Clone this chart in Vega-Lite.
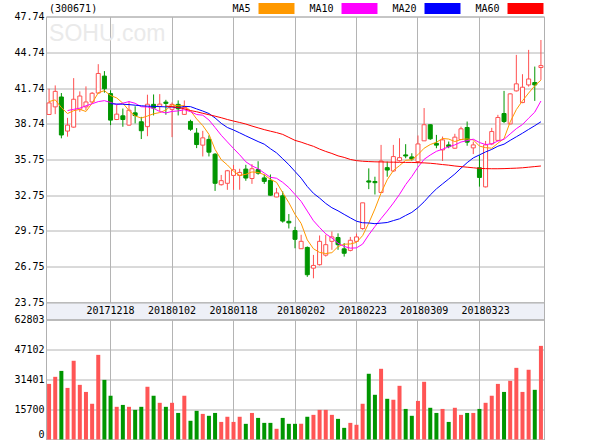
{
  "$schema": "https://vega.github.io/schema/vega-lite/v6.json",
  "padding": {"left": 0, "top": 2.5, "right": 0, "bottom": 0},
  "background": "white",
  "spacing": 0,
  "bounds": "flush",
  "resolve": {"scale": {"x": "shared", "y": "independent", "color": "independent"}},
  "config": {
    "view": {"stroke": "#b0b0b0", "strokeWidth": 1},
    "axis": {"labelFont": "DejaVu Sans Mono", "labelFontSize": 10, "labelColor": "#000000", "gridColor": "#b4b4b4", "gridWidth": 1, "domain": false, "ticks": false, "tickSize": 0, "labelPadding": 2, "labelOverlap": false}
  },
  "data": {"values": [
    {"d":"20171204","o":39.52,"h":41.68,"l":39.5,"c":40.49,"v":29100,"MA5":40.6},
    {"d":"20171205","o":40.16,"h":41.96,"l":39.55,"c":41.46,"v":32800,"MA5":40.75},
    {"d":"20171206","o":40.99,"h":41.32,"l":37.52,"c":37.8,"v":35900,"MA5":40.1},
    {"d":"20171207","o":38.13,"h":39.24,"l":37.66,"c":38.63,"v":27000,"MA5":39.6,"MA10":39.85},
    {"d":"20171208","o":38.46,"h":42.57,"l":38.41,"c":40.8,"v":41200,"MA5":39.84,"MA10":39.95},
    {"d":"20171211","o":39.96,"h":41.46,"l":39.74,"c":41.07,"v":28600,"MA5":39.95,"MA10":40.05},
    {"d":"20171212","o":40.16,"h":41.88,"l":39.88,"c":40.57,"v":24900,"MA5":39.77,"MA10":40.25},
    {"d":"20171213","o":40.57,"h":41.4,"l":40.43,"c":41.3,"v":18700,"MA5":40.47,"MA10":40.42},
    {"d":"20171214","o":41.32,"h":43.74,"l":41.27,"c":42.96,"v":44300,"MA5":41.34,"MA10":40.6},
    {"d":"20171215","o":42.74,"h":43.16,"l":41.35,"c":41.68,"v":31200,"MA5":41.52,"MA10":40.68},
    {"d":"20171218","o":41.27,"h":41.55,"l":38.63,"c":39.05,"v":22900,"MA5":41.11,"MA10":40.53,"MA20":40.42},
    {"d":"20171219","o":39.1,"h":40.35,"l":39.05,"c":39.55,"v":17100,"MA5":40.91,"MA10":40.34,"MA20":40.4},
    {"d":"20171220","o":39.41,"h":40.02,"l":38.49,"c":39.1,"v":18100,"MA5":40.47,"MA10":40.47,"MA20":40.38},
    {"d":"20171221","o":38.63,"h":40.63,"l":38.57,"c":39.88,"v":17100,"MA5":39.85,"MA10":40.6,"MA20":40.35},
    {"d":"20171222","o":39.66,"h":40.21,"l":38.77,"c":39.43,"v":15500,"MA5":39.4,"MA10":40.46,"MA20":40.3},
    {"d":"20171225","o":38.91,"h":39.32,"l":37.46,"c":38.16,"v":17100,"MA5":39.22,"MA10":40.17,"MA20":40.25},
    {"d":"20171226","o":38.5,"h":41.18,"l":37.7,"c":40.38,"v":27600,"MA5":39.39,"MA10":40.15,"MA20":40.22},
    {"d":"20171227","o":40.37,"h":41.2,"l":39.44,"c":40.06,"v":22900,"MA5":39.58,"MA10":40.03,"MA20":40.2},
    {"d":"20171228","o":40.2,"h":41.23,"l":39.78,"c":40.39,"v":19200,"MA5":39.68,"MA10":39.77,"MA20":40.18},
    {"d":"20171229","o":40.56,"h":40.75,"l":39.5,"c":40.45,"v":17100,"MA5":39.89,"MA10":39.65,"MA20":40.16,"MA60":40.22},
    {"d":"20180102","o":39.95,"h":40.53,"l":37.62,"c":40.37,"v":19200,"MA5":40.33,"MA10":39.78,"MA20":40.15,"MA60":40.18},
    {"d":"20180103","o":40.37,"h":40.7,"l":39.44,"c":40.0,"v":13900,"MA5":40.25,"MA10":39.82,"MA20":40.08,"MA60":40.1},
    {"d":"20180104","o":39.53,"h":40.7,"l":39.5,"c":40.1,"v":22900,"MA5":40.26,"MA10":39.92,"MA20":40.2,"MA60":40.0},
    {"d":"20180105","o":38.94,"h":39.08,"l":38.15,"c":38.28,"v":9800,"MA5":39.84,"MA10":39.76,"MA20":40.18,"MA60":39.85},
    {"d":"20180108","o":37.96,"h":38.38,"l":36.7,"c":37.0,"v":15000,"MA5":39.15,"MA10":39.52,"MA20":39.99,"MA60":39.75},
    {"d":"20180109","o":36.95,"h":38.15,"l":36.0,"c":37.56,"v":13400,"MA5":38.59,"MA10":39.46,"MA20":39.81,"MA60":39.62},
    {"d":"20180110","o":37.43,"h":37.76,"l":36.0,"c":36.36,"v":12400,"MA5":37.86,"MA10":39.06,"MA20":39.6,"MA60":39.5},
    {"d":"20180111","o":36.19,"h":36.28,"l":33.11,"c":33.75,"v":13900,"MA5":36.59,"MA10":38.43,"MA20":39.23,"MA60":39.38},
    {"d":"20180112","o":33.63,"h":34.45,"l":33.56,"c":33.97,"v":9200,"MA5":35.73,"MA10":37.78,"MA20":38.78,"MA60":39.25},
    {"d":"20180117","o":33.75,"h":34.87,"l":33.2,"c":34.8,"v":11900,"MA5":35.29,"MA10":37.22,"MA20":38.43,"MA60":39.1},
    {"d":"20180118","o":34.41,"h":35.29,"l":33.2,"c":34.88,"v":9200,"MA5":34.75,"MA10":36.67,"MA20":38.22,"MA60":38.97},
    {"d":"20180119","o":34.41,"h":34.97,"l":33.21,"c":34.66,"v":11900,"MA5":34.41,"MA10":36.14,"MA20":37.98,"MA60":38.85},
    {"d":"20180122","o":34.94,"h":35.3,"l":33.96,"c":34.19,"v":8200,"MA5":34.5,"MA10":35.55,"MA20":37.73,"MA60":38.72},
    {"d":"20180123","o":34.15,"h":35.36,"l":33.7,"c":34.97,"v":13900,"MA5":34.7,"MA10":35.21,"MA20":37.49,"MA60":38.55},
    {"d":"20180124","o":34.9,"h":35.6,"l":34.47,"c":34.6,"v":11300,"MA5":34.66,"MA10":34.97,"MA20":37.25,"MA60":38.4},
    {"d":"20180125","o":34.2,"h":34.49,"l":33.7,"c":33.91,"v":8700,"MA5":34.47,"MA10":34.61,"MA20":37.03,"MA60":38.25},
    {"d":"20180126","o":34.0,"h":34.49,"l":32.7,"c":32.75,"v":8700,"MA5":34.08,"MA10":34.25,"MA20":36.65,"MA60":38.12},
    {"d":"20180129","o":32.6,"h":33.36,"l":32.58,"c":32.94,"v":5600,"MA5":33.83,"MA10":34.17,"MA20":36.3,"MA60":38.0},
    {"d":"20180130","o":32.7,"h":33.08,"l":30.45,"c":30.58,"v":11300,"MA5":32.96,"MA10":33.83,"MA20":35.81,"MA60":37.85},
    {"d":"20180131","o":30.56,"h":31.17,"l":29.96,"c":30.43,"v":8200,"MA5":32.12,"MA10":33.39,"MA20":35.31,"MA60":37.6},
    {"d":"20180201","o":29.78,"h":30.1,"l":28.3,"c":29.05,"v":8200,"MA5":31.15,"MA10":32.81,"MA20":34.74,"MA60":37.35},
    {"d":"20180202","o":28.26,"h":29.43,"l":28.25,"c":28.88,"v":8200,"MA5":30.38,"MA10":32.23,"MA20":34.18,"MA60":37.2},
    {"d":"20180205","o":28.37,"h":28.45,"l":25.9,"c":26.08,"v":11900,"MA5":29.0,"MA10":31.42,"MA20":33.48,"MA60":37.02},
    {"d":"20180206","o":26.63,"h":27.74,"l":25.78,"c":26.86,"v":12900,"MA5":28.26,"MA10":30.61,"MA20":32.91,"MA60":36.85},
    {"d":"20180207","o":26.92,"h":29.37,"l":26.85,"c":28.88,"v":15500,"MA5":27.95,"MA10":30.04,"MA20":32.51,"MA60":36.62},
    {"d":"20180208","o":27.72,"h":29.43,"l":27.6,"c":28.6,"v":15500,"MA5":27.86,"MA10":29.51,"MA20":32.06,"MA60":36.42},
    {"d":"20180209","o":28.88,"h":29.71,"l":28.17,"c":29.25,"v":12900,"MA5":27.93,"MA10":29.16,"MA20":31.7,"MA60":36.25},
    {"d":"20180212","o":29.2,"h":29.55,"l":28.17,"c":28.6,"v":10800,"MA5":28.44,"MA10":28.72,"MA20":31.44,"MA60":36.05},
    {"d":"20180213","o":28.25,"h":28.73,"l":27.6,"c":27.88,"v":6100,"MA5":28.64,"MA10":28.45,"MA20":31.14,"MA60":35.92},
    {"d":"20180214","o":28.12,"h":29.25,"l":28.04,"c":28.97,"v":8700,"MA5":28.66,"MA10":28.31,"MA20":30.85,"MA60":35.75},
    {"d":"20180222","o":28.88,"h":29.53,"l":28.82,"c":29.25,"v":7700,"MA5":28.79,"MA10":28.33,"MA20":30.57,"MA60":35.65},
    {"d":"20180223","o":29.95,"h":32.11,"l":29.85,"c":32.11,"v":18700,"MA5":29.36,"MA10":28.65,"MA20":30.44,"MA60":35.6},
    {"d":"20180226","o":33.95,"h":35.0,"l":33.26,"c":33.85,"v":34400,"MA5":30.41,"MA10":29.43,"MA20":30.42,"MA60":35.57},
    {"d":"20180227","o":33.9,"h":34.3,"l":32.81,"c":33.8,"v":23400,"MA5":31.6,"MA10":30.12,"MA20":30.36,"MA60":35.55},
    {"d":"20180228","o":32.98,"h":36.97,"l":32.95,"c":35.62,"v":37000,"MA5":32.93,"MA10":30.79,"MA20":30.41,"MA60":35.54},
    {"d":"20180301","o":35.06,"h":35.57,"l":34.3,"c":34.86,"v":21300,"MA5":34.05,"MA10":31.42,"MA20":30.46,"MA60":35.53},
    {"d":"20180302","o":34.78,"h":36.97,"l":34.72,"c":35.99,"v":20800,"MA5":34.82,"MA10":32.09,"MA20":30.62,"MA60":35.52},
    {"d":"20180305","o":35.65,"h":37.53,"l":35.57,"c":35.9,"v":28100,"MA5":35.23,"MA10":32.82,"MA20":30.77,"MA60":35.51},
    {"d":"20180306","o":36.13,"h":37.03,"l":35.85,"c":36.04,"v":16000,"MA5":35.68,"MA10":33.64,"MA20":31.05,"MA60":35.5},
    {"d":"20180307","o":35.96,"h":36.27,"l":35.65,"c":35.79,"v":12400,"MA5":35.72,"MA10":34.32,"MA20":31.31,"MA60":35.5},
    {"d":"20180308","o":35.57,"h":37.76,"l":35.55,"c":37.05,"v":20200,"MA5":36.15,"MA10":35.1,"MA20":31.71,"MA60":35.48},
    {"d":"20180309","o":37.31,"h":40.06,"l":37.3,"c":38.66,"v":30200,"MA5":36.69,"MA10":35.76,"MA20":32.2,"MA60":35.46},
    {"d":"20180312","o":38.66,"h":38.7,"l":37.39,"c":37.48,"v":16600,"MA5":37.0,"MA10":36.12,"MA20":32.77,"MA60":35.43},
    {"d":"20180313","o":37.1,"h":37.81,"l":36.69,"c":36.95,"v":13900,"MA5":37.19,"MA10":36.43,"MA20":33.28,"MA60":35.38},
    {"d":"20180314","o":36.55,"h":37.67,"l":35.62,"c":37.39,"v":16000,"MA5":37.51,"MA10":36.61,"MA20":33.7,"MA60":35.32},
    {"d":"20180315","o":36.97,"h":37.25,"l":36.69,"c":36.83,"v":9200,"MA5":37.46,"MA10":36.81,"MA20":34.11,"MA60":35.27},
    {"d":"20180316","o":36.69,"h":37.9,"l":36.65,"c":37.62,"v":16600,"MA5":37.25,"MA10":36.97,"MA20":34.53,"MA60":35.2},
    {"d":"20180319","o":37.42,"h":38.5,"l":37.4,"c":38.32,"v":12900,"MA5":37.42,"MA10":37.21,"MA20":35.02,"MA60":35.15},
    {"d":"20180320","o":38.43,"h":38.93,"l":36.9,"c":37.2,"v":13900,"MA5":37.47,"MA10":37.33,"MA20":35.48,"MA60":35.1},
    {"d":"20180321","o":36.72,"h":37.25,"l":36.2,"c":36.97,"v":13900,"MA5":37.39,"MA10":37.45,"MA20":35.88,"MA60":35.05},
    {"d":"20180322","o":35.05,"h":36.1,"l":33.47,"c":34.24,"v":16000,"MA5":36.87,"MA10":37.17,"MA20":36.13,"MA60":35.0},
    {"d":"20180323","o":33.45,"h":37.3,"l":33.4,"c":36.97,"v":19200,"MA5":36.74,"MA10":37.0,"MA20":36.38,"MA60":34.98},
    {"d":"20180326","o":37.05,"h":38.4,"l":36.95,"c":38.09,"v":22900,"MA5":36.69,"MA10":37.06,"MA20":36.59,"MA60":34.97},
    {"d":"20180327","o":37.35,"h":39.49,"l":37.3,"c":39.27,"v":29100,"MA5":37.11,"MA10":37.29,"MA20":36.86,"MA60":34.97},
    {"d":"20180328","o":39.6,"h":41.5,"l":38.8,"c":38.93,"v":24900,"MA5":37.5,"MA10":37.44,"MA20":37.03,"MA60":34.98},
    {"d":"20180329","o":38.73,"h":41.3,"l":38.7,"c":41.25,"v":30700,"MA5":38.9,"MA10":37.89,"MA20":37.35,"MA60":35.0},
    {"d":"20180330","o":41.5,"h":44.52,"l":41.45,"c":42.09,"v":37500,"MA5":39.93,"MA10":38.33,"MA20":37.65,"MA60":35.02},
    {"d":"20180402","o":40.52,"h":42.9,"l":40.47,"c":41.81,"v":24900,"MA5":40.67,"MA10":38.68,"MA20":37.95,"MA60":35.05},
    {"d":"20180403","o":42.0,"h":44.94,"l":41.86,"c":42.5,"v":36500,"MA5":41.32,"MA10":39.21,"MA20":38.27,"MA60":35.1},
    {"d":"20180404","o":42.2,"h":43.54,"l":40.66,"c":42.0,"v":26000,"MA5":41.93,"MA10":39.72,"MA20":38.58,"MA60":35.15},
    {"d":"20180409","o":43.46,"h":45.77,"l":42.42,"c":43.62,"v":49000,"MA5":42.4,"MA10":40.65,"MA20":38.91,"MA60":35.2}
  ]},
  "vconcat": [
    {
      "width": 498,
      "height": 286,
      "encoding": {
        "x": {"field": "d", "type": "ordinal", "title": null,
          "scale": {"type": "band", "paddingInner": 0, "paddingOuter": 0},
          "axis": {"values": ["20171218","20180102","20180118","20180201","20180222","20180308","20180322"], "labels": false, "grid": true, "minExtent": 0, "maxExtent": 0}}
      },
      "layer": [
        {
          "data": {"values": [{"t": "SOHU.com"}]},
          "mark": {"type": "text", "align": "left", "baseline": "middle", "font": "Liberation Sans", "fontSize": 23, "color": "#eaeaea"},
          "encoding": {
            "x": {"datum": "20171204", "type": "ordinal"},
            "y": {"datum": 46.25, "type": "quantitative", "title": null},
            "text": {"field": "t"}
          }
        },
        {
          "mark": {"type": "rule", "strokeWidth": 1},
          "encoding": {
            "y": {"field": "l", "type": "quantitative", "title": null,
              "scale": {"domain": [23.75, 47.74], "zero": false, "nice": false},
              "axis": {"values": [23.75, 26.75, 29.75, 32.75, 35.75, 38.74, 41.74, 44.74, 47.74], "tickCount": 20, "format": ".2f", "grid": true, "labelOverlap": false, "labelBound": false, "minExtent": 45, "maxExtent": 45}},
            "y2": {"field": "h"},
            "color": {"condition": {"test": "datum.c >= datum.o", "value": "#ff5050"}, "value": "#009600"}
          }
        },
        {
          "mark": {"type": "bar", "size": 4, "strokeWidth": 1},
          "encoding": {
            "y": {"field": "o", "type": "quantitative", "title": null},
            "y2": {"field": "c"},
            "fill": {"condition": {"test": "datum.c >= datum.o", "value": "#ffffff"}, "value": "#009600"},
            "stroke": {"condition": {"test": "datum.c >= datum.o", "value": "#ff5050"}, "value": "#009600"}
          }
        },
        {
          "transform": [{"fold": ["MA5", "MA10", "MA20", "MA60"], "as": ["key", "value"]}],
          "mark": {"type": "line", "strokeWidth": 1},
          "encoding": {
            "y": {"field": "value", "type": "quantitative", "title": null},
            "color": {"field": "key", "type": "nominal",
              "scale": {"domain": ["MA5", "MA10", "MA20", "MA60"], "range": ["#ff9900", "#ff00ff", "#0000ff", "#ff0000"]},
              "legend": {
                "orient": "none", "legendX": 3, "legendY": -13.5, "direction": "horizontal", "padding": 0,
                "title": "(300671)", "titleOrient": "left", "titleFont": "DejaVu Sans Mono", "titleFontSize": 10, "titleFontWeight": "normal", "titleColor": "#000000", "titlePadding": 173, "titleBaseline": "middle",
                "labelFont": "DejaVu Sans Mono", "labelFontSize": 10, "labelColor": "#000000", "labelAlign": "right", "labelOffset": -31.5,
                "symbolType": "M-3.27,-1H3.27V1H-3.27Z", "symbolSize": 121, "symbolStrokeWidth": 0,
                "columnPadding": 14,
                "encode": {"symbols": {"update": {"fill": {"signal": "datum.value === 'MA5' ? '#ff9900' : datum.value === 'MA10' ? '#ff00ff' : datum.value === 'MA20' ? '#0000ff' : '#ff0000'"}, "opacity": {"value": 1}}}}
              }
            }
          }
        }
      ]
    },
    {
      "width": 498,
      "height": 17,
      "view": {"fill": "#eef0f7", "stroke": "#b0b0b0"},
      "transform": [{"filter": {"field": "d", "oneOf": ["20171218","20180102","20180118","20180202","20180223","20180309","20180323"]}}],
      "mark": {"type": "text", "font": "DejaVu Sans Mono", "fontSize": 10, "color": "#000000", "baseline": "middle"},
      "encoding": {
        "x": {"field": "d", "type": "ordinal", "axis": null},
        "text": {"field": "d"}
      }
    },
    {
      "width": 498,
      "height": 120,
      "mark": {"type": "bar", "size": 4},
      "encoding": {
        "x": {"field": "d", "type": "ordinal", "title": null,
          "axis": {"values": ["20171218","20180102","20180118","20180201","20180222","20180308","20180322"], "labels": false, "grid": true, "minExtent": 0, "maxExtent": 0}},
        "y": {"field": "v", "type": "quantitative", "title": null,
          "scale": {"domain": [0, 62803], "nice": false},
          "axis": {"values": [0, 15700, 31401, 47102, 62803], "tickCount": 10, "format": "d", "grid": true, "labelOverlap": false, "minExtent": 45, "maxExtent": 45,
            "labelBaseline": {"condition": {"test": "datum.value == 0", "value": "bottom"}, "value": "middle"}}},
        "color": {"condition": {"test": "datum.c >= datum.o", "value": "#ff5555"}, "value": "#009600"}
      }
    }
  ]
}
